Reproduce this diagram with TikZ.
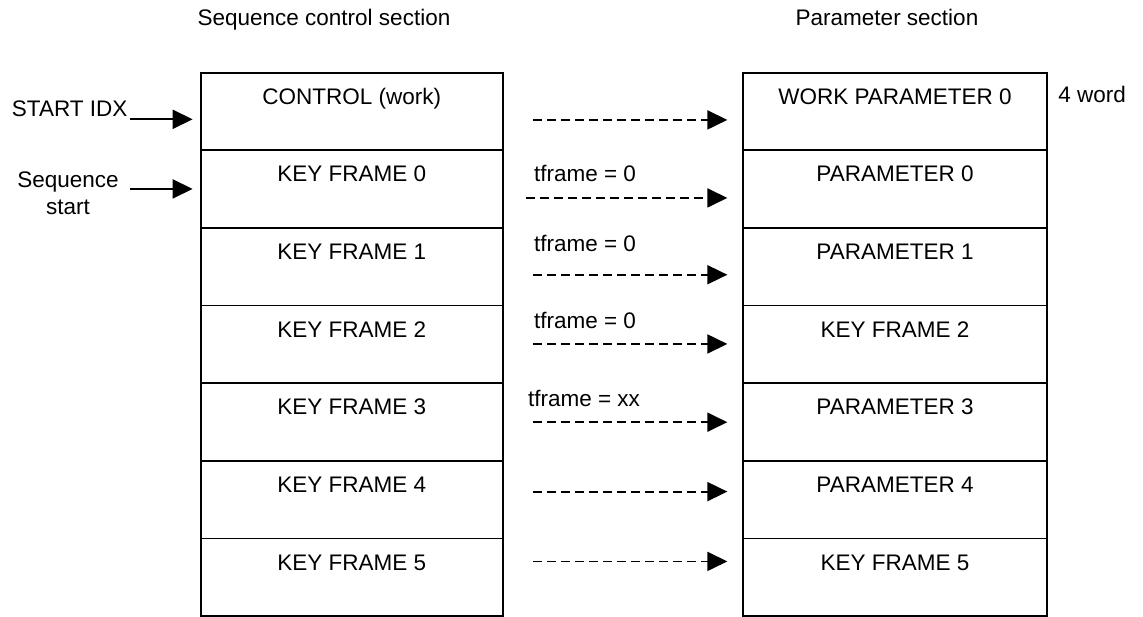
\documentclass[tikz,border=0pt]{standalone}
\usepackage{fontspec}
\setmainfont{Liberation Sans}
\usetikzlibrary{positioning,arrows.meta}

\begin{document}
\begin{tikzpicture}[
    x=0.025cm, y=-0.025cm,
    font=\fontsize{16}{19.2}\selectfont,
    slot/.style={rectangle, draw, line width=1.3pt, outer sep=0pt, inner xsep=0pt, inner ysep=0pt, minimum width=7.55cm, text height=0.79cm, text depth=1.15cm},
    parslot/.style={slot, minimum width=7.6cm},
    caption/.style={anchor=base, inner sep=0pt},
    ptr/.style={draw, line width=1.3pt, -{Triangle[length=0.5cm, width=0.475cm]}},
    link/.style={ptr, dash pattern=on 0.225cm off 0.125cm, shorten <=0.76cm, shorten >=0.39cm},
    tlabel/.style={pos=0, anchor=base west, inner sep=0pt, xshift=0.76cm}
]
\useasboundingbox (0,0) rectangle (1143,617);

% Section headings
\node[caption] (seqhead) at (324,26) {Sequence control section};
\node[caption] (parhead) at (887,26) {Parameter section};

% Sequence control column
\node[slot, anchor=north] (ctl) at (351.7,72.7) {CONTROL (work)};
\node[slot, below=0pt of ctl] (kf0) {KEY FRAME 0};
\node[slot, below=0pt of kf0] (kf1) {KEY FRAME 1};
\node[slot, below=0pt of kf1] (kf2) {KEY FRAME 2};
\node[slot, below=0pt of kf2] (kf3) {KEY FRAME 3};
\node[slot, below=0pt of kf3] (kf4) {KEY FRAME 4};
\node[slot, below=0pt of kf4] (kf5) {KEY FRAME 5};

% Parameter column
\node[parslot, anchor=north] (wpar) at (895,72.7) {WORK PARAMETER 0};
\node[parslot, below=0pt of wpar] (par0) {PARAMETER 0};
\node[parslot, below=0pt of par0] (par1) {PARAMETER 1};
\node[parslot, below=0pt of par1] (par2) {KEY FRAME 2};
\node[parslot, below=0pt of par2] (par3) {PARAMETER 3};
\node[parslot, below=0pt of par3] (par4) {PARAMETER 4};
\node[parslot, below=0pt of par4] (par5) {KEY FRAME 5};

\node[anchor=base west, inner sep=0pt] (wsize) at (1058,102.7) {4 word};

% Entry pointers
\node[anchor=base east, inner sep=0pt] (idx) at (127.7,116.7) {START IDX};
\coordinate[below left=1.165cm and 0.2cm of ctl.north west] (idxtip);
\draw[ptr] (idx.east |- idxtip) ++(2,0) -- (idxtip);

\node[align=center, inner sep=0pt] (seqst) at (68,193) {Sequence\\start};
\coordinate[below left=0.965cm and 0.2cm of kf0.north west] (seqtip);
\draw[ptr] (seqst.east |- seqtip) ++(11,0) -- (seqtip);

% Links between the sections
\draw[link] ([yshift=-1.18cm]ctl.north east) -- ([yshift=-1.18cm]wpar.north west);
\draw[link, shorten <=0.58cm] ([yshift=-1.19cm]kf0.north east) -- node[tlabel, yshift=0.415cm] {tframe = 0} ([yshift=-1.19cm]par0.north west);
\draw[link] ([yshift=-1.17cm]kf1.north east) -- node[tlabel, yshift=0.58cm] {tframe = 0} ([yshift=-1.17cm]par1.north west);
\draw[link] ([yshift=-0.96cm]kf2.north east) -- node[tlabel, yshift=0.38cm] {tframe = 0} ([yshift=-0.96cm]par2.north west);
\draw[link] ([yshift=-0.975cm]kf3.north east) -- node[tlabel, xshift=-0.15cm, yshift=0.39cm] {tframe = xx} ([yshift=-0.975cm]par3.north west);
\draw[link] ([yshift=-0.77cm]kf4.north east) -- ([yshift=-0.77cm]par4.north west);
\draw[link] ([yshift=-0.575cm]kf5.north east) -- ([yshift=-0.575cm]par5.north west);

\end{tikzpicture}
\end{document}
